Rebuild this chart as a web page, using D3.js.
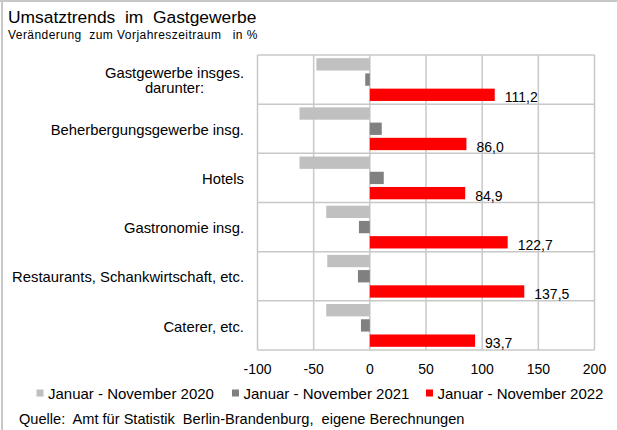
<!DOCTYPE html>
<html>
<head>
<meta charset="utf-8">
<script src="https://cdn.jsdelivr.net/npm/d3@7"></script>
<style>
  html, body { margin: 0; padding: 0; background: #fff; }
  svg { display: block; font-family: "Liberation Sans", Arial, sans-serif; }
  text { white-space: pre; }
</style>
</head>
<body>
<svg id="chart" width="617" height="430"></svg>
<script>
// Branchen (top to bottom)
const categories = [
  "Gastgewerbe insges.|darunter:",
  "Beherbergungsgewerbe insg.",
  "Hotels",
  "Gastronomie insg.",
  "Restaurants, Schankwirtschaft, etc.",
  "Caterer, etc."
];
const seriesNames = ["Januar - November 2020", "Januar - November 2021", "Januar - November 2022"];
const values2020 = [-47.6, -62.6, -62.6, -38.8, -37.9, -38.8];
const values2021 = [-4.1, 10.6, 12.4, -9.7, -10.6, -7.9];
const values2022 = [111.2, 86.0, 84.9, 122.7, 137.5, 93.7];
const xTicks = [-100, -50, 0, 50, 100, 150, 200];
const colors = ["#c0c0c0", "#808080", "#ff0000"];

const svg = d3.select("#chart");
const grid = "#c8c8c8";

// outer frame (left and top edges)
svg.append("line").attr("x1", 2).attr("x2", 2).attr("y1", 0).attr("y2", 430)
  .attr("stroke", grid).attr("stroke-width", 2);
svg.append("line").attr("x1", 0).attr("x2", 617).attr("y1", 1).attr("y2", 1)
  .attr("stroke", grid).attr("stroke-width", 2);

// title
svg.append("text").attr("x", 8).attr("y", 23).attr("font-size", 17.4).attr("fill", "#000")
  .text("Umsatztrends  im  Gastgewerbe");
svg.append("text").attr("x", 8).attr("y", 39).attr("font-size", 12).attr("letter-spacing", 0.45)
  .attr("fill", "#000")
  .text("Veränderung  zum Vorjahreszeitraum   in %");

const plot = { left: 257.5, right: 594.5, top: 55, bottom: 350 };

const x = d3.scaleLinear().domain([-100, 200]).range([plot.left, plot.right]);
const y = d3.scaleBand().domain(categories).range([plot.top, plot.bottom]).padding(0);
const ySeries = d3.scaleBand().domain([0, 1, 2]).range([0, y.bandwidth()])
  .paddingInner(0.19).paddingOuter(0.21);

const g = svg.append("g");

// vertical gridlines
g.selectAll("line.vgrid").data(xTicks).join("line")
  .attr("class", "vgrid")
  .attr("x1", d => x(d)).attr("x2", d => x(d))
  .attr("y1", plot.top).attr("y2", plot.bottom)
  .attr("stroke", grid).attr("stroke-width", 1.5);

// horizontal separators between categories
const seps = categories.map(c => y(c)).concat([plot.bottom]);
g.selectAll("line.hgrid").data(seps).join("line")
  .attr("class", "hgrid")
  .attr("x1", plot.left).attr("x2", plot.right)
  .attr("y1", d => d).attr("y2", d => d)
  .attr("stroke", grid).attr("stroke-width", 1.5);

// bars
const seriesValues = [values2020, values2021, values2022];
seriesValues.forEach((vals, si) => {
  g.selectAll("rect.s" + si).data(categories).join("rect")
    .attr("class", "s" + si)
    .attr("x", (c, i) => Math.min(x(0), x(vals[i])))
    .attr("width", (c, i) => Math.abs(x(vals[i]) - x(0)))
    .attr("y", c => y(c) + ySeries(si))
    .attr("height", ySeries.bandwidth())
    .attr("fill", colors[si]);
});

// value labels for 2022
const fmt = v => d3.format(".1f")(v).replace(".", ",");
g.selectAll("text.val").data(categories).join("text")
  .attr("class", "val")
  .attr("x", (c, i) => x(values2022[i]) + 10)
  .attr("y", c => y(c) + ySeries(2) + ySeries.bandwidth() + 1.5)
  .attr("font-size", 14).attr("fill", "#000")
  .text((c, i) => fmt(values2022[i]));

// category labels (right-aligned; continuation lines centred under the first line)
const labelRight = 244;
g.selectAll("text.cat").data(categories).join("text")
  .attr("class", "cat")
  .attr("font-size", 14.8).attr("fill", "#000")
  .each(function (c) {
    const lines = c.split("|");
    const cy = y(c) + y.bandwidth() / 2 + 1;
    const lh = 15;
    const t = d3.select(this);
    const first = t.append("tspan").attr("text-anchor", "end")
      .attr("x", labelRight)
      .attr("y", cy - (lines.length - 1) / 2 * lh)
      .attr("dy", "0.35em")
      .text(lines[0]);
    const w = first.node().getComputedTextLength();
    lines.slice(1).forEach((ln, k) => {
      t.append("tspan").attr("text-anchor", "middle")
        .attr("x", labelRight - w / 2)
        .attr("y", cy + (k + 1 - (lines.length - 1) / 2) * lh)
        .attr("dy", "0.35em")
        .text(ln);
    });
  });

// x axis tick labels
g.selectAll("text.tick").data(xTicks).join("text")
  .attr("class", "tick")
  .attr("x", d => x(d)).attr("y", 369).attr("dy", "0.35em")
  .attr("text-anchor", "middle").attr("font-size", 14).attr("fill", "#000")
  .text(d => d);

// legend
const legendX = [36.5, 232, 426];
const lg = svg.append("g");
seriesNames.forEach((name, i) => {
  lg.append("rect").attr("x", legendX[i]).attr("y", 389.5).attr("width", 7).attr("height", 7)
    .attr("fill", colors[i]);
  lg.append("text").attr("x", legendX[i] + 11.5).attr("y", 394).attr("dy", "0.35em")
    .attr("font-size", 15).attr("fill", "#000").text(name);
});

// source note
svg.append("text").attr("x", 19).attr("y", 419).attr("dy", "0.35em")
  .attr("font-size", 14.6).attr("fill", "#000")
  .text("Quelle:  Amt für Statistik  Berlin-Brandenburg,  eigene Berechnungen");
</script>
</body>
</html>
